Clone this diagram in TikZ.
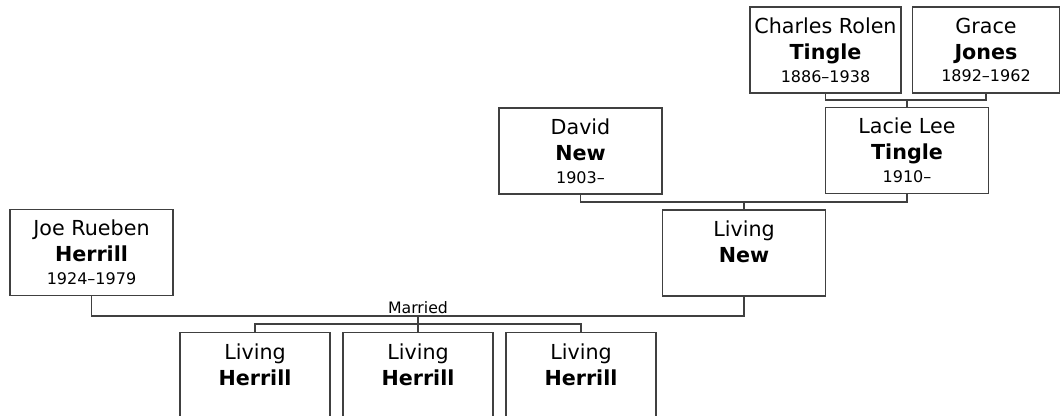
\documentclass[tikz,border=0pt]{standalone}
\usepackage{fontspec}
\setmainfont{DejaVu Sans}
\newcommand\yrs[1]{{\fontsize{12}{14}\selectfont #1}}

\begin{document}
\begin{tikzpicture}[x=0.75pt,y=-0.75pt,
  person/.style={draw=black!75,line width=1.1pt,minimum width=122pt,minimum height=64.5pt,
    align=center,inner sep=0pt,font=\fontsize{15.5}{19.5}\selectfont},
  kid/.style={person,minimum width=112.5pt,anchor=north},
  link/.style={draw=black!75,line width=1.1pt}]
  \useasboundingbox (0,0) rectangle (1060,415);
  \clip (0,0) rectangle (1060,415);
  \node[person,minimum width=113pt] (charles) at (825.5,50) {Charles Rolen\\\textbf{Tingle}\\[-2.5pt]\yrs{1886--1938}};
  \node[person,minimum width=110pt] (grace) at (986,50) {Grace\\\textbf{Jones}\\[-2.5pt]\yrs{1892--1962}};
  \node[person] (lacie) at (907,150.5) {Lacie Lee\\\textbf{Tingle}\\[-2.5pt]\yrs{1910--}};
  \node[person] (david) at (580.5,151) {David\\\textbf{New}\\[-2.5pt]\yrs{1903--}};
  \node[person] (livnew) at (744,253) {Living\\\textbf{New}\\[-2.5pt]\yrs{\phantom{1903}}};
  \node[person] (joe) at (91.5,252.5) {Joe Rueben\\\textbf{Herrill}\\[-2.5pt]\yrs{1924--1979}};
  \node[kid] (kid1) at (255,332) {Living\\\textbf{Herrill}\\[-2.5pt]\yrs{\phantom{1903}}};
  \node[kid] (kid2) at (418,332) {Living\\\textbf{Herrill}\\[-2.5pt]\yrs{\phantom{1903}}};
  \node[kid] (kid3) at (581,332) {Living\\\textbf{Herrill}\\[-2.5pt]\yrs{\phantom{1903}}};

  \coordinate (tcouple) at (907,100);
  \coordinate (ncouple) at (744,202);
  \coordinate (hcouple) at (418,316);
  \coordinate (kids) at (418,324);
  \draw[link] (charles.south) |- (tcouple) -| (grace.south);
  \draw[link] (tcouple) -- (lacie.north);
  \draw[link] (david.south) |- (ncouple) -| (lacie.south);
  \draw[link] (ncouple) -- (livnew.north);
  \draw[link] (joe.south) |- (hcouple) -| (livnew.south);
  \node[font=\fontsize{11.8}{14}\selectfont,anchor=south,inner sep=1.5pt] (married) at (hcouple) {Married};
  \draw[link] (hcouple) -- (kids);
  \draw[link] (kid1.north) |- (kids) -| (kid3.north);
  \draw[link] (kids) -- (kid2.north);
\end{tikzpicture}
\end{document}
